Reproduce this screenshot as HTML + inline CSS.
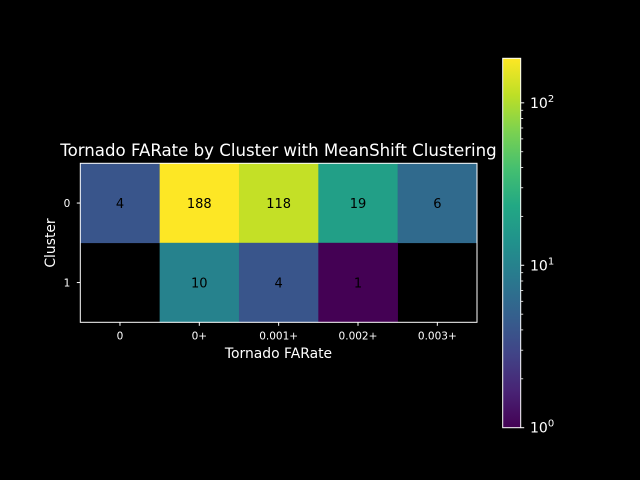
<!DOCTYPE html>
<html><head><meta charset="utf-8"><style>
html,body{margin:0;padding:0;background:#000;}
svg{display:block;font-family:"DejaVu Sans","Liberation Sans",sans-serif;}
</style></head><body>
<svg id="chart" width="640" height="480" xmlns="http://www.w3.org/2000/svg">
<rect width="640" height="480" fill="#000"/>
<defs>
<linearGradient id="vir" x1="0" y1="1" x2="0" y2="0">
<stop offset="0" stop-color="#440154"/><stop offset="0.1" stop-color="#482475"/>
<stop offset="0.2" stop-color="#414487"/><stop offset="0.3" stop-color="#355f8d"/>
<stop offset="0.4" stop-color="#2a788e"/><stop offset="0.5" stop-color="#21918c"/>
<stop offset="0.6" stop-color="#22a884"/><stop offset="0.7" stop-color="#44bf70"/>
<stop offset="0.8" stop-color="#7ad151"/><stop offset="0.9" stop-color="#bddf26"/>
<stop offset="1" stop-color="#fde725"/>
</linearGradient>
</defs>
<text x="278.5" y="156" fill="#fff" font-size="16.6" text-anchor="middle">Tornado FARate by Cluster with MeanShift Clustering</text>
<g id="cells"></g>
<rect x="80.3" y="163.3" width="396.7" height="159" fill="none" stroke="#fff" stroke-width="1"/>
<g id="xt"></g><g id="yt"></g>
<text x="278.5" y="358" fill="#fff" font-size="13.9" text-anchor="middle">Tornado FARate</text>
<text transform="translate(55,243) rotate(-90)" fill="#fff" font-size="13.9" text-anchor="middle">Cluster</text>
<rect x="502.7" y="58.3" width="18" height="369.4" fill="url(#vir)"/>
<rect x="502.7" y="58.3" width="18" height="369.4" fill="none" stroke="#fff" stroke-width="1"/>
<g id="cb"></g>
</svg>
<script>
const categories = ["0","0+","0.001+","0.002+","0.003+"];
const clusters = ["0","1"];
const cluster0 = [4,188,118,19,6];
const cluster1 = [0,10,4,1,0];
const cbTicks = [1,10,100];
const cbTickLabels = ["0","1","2"];

const NS="http://www.w3.org/2000/svg";
const rows=[cluster0,cluster1];
const X0=80.3,Y0=163.3,W=396.7,H=159;
const cw=W/categories.length, ch=H/clusters.length;
const vmin=1, vmax=Math.max(...cluster0,...cluster1);
const cbTop=58.3, cbBot=427.7;
const vir=["#440154","#482475","#414487","#355f8d","#2a788e","#21918c","#22a884","#44bf70","#7ad151","#bddf26","#fde725"];
function hex(h){return [1,3,5].map(i=>parseInt(h.substr(i,2),16));}
function color(t){t=Math.max(0,Math.min(1,t));const p=t*10,i=Math.min(9,Math.floor(p)),f=p-i;
 const a=hex(vir[i]),b=hex(vir[i+1]);return "rgb("+a.map((v,k)=>Math.round(v+(b[k]-v)*f)).join(",")+")";}
function norm(v){return Math.log(v/vmin)/Math.log(vmax/vmin);}
function xPos(i){return X0+cw*i;}
function yPos(j){return Y0+ch*j;}
function cbY(v){return cbBot-(cbBot-cbTop)*norm(v);}
function mk(tag,attrs,parent,txt){const e=document.createElementNS(NS,tag);for(const k in attrs)e.setAttribute(k,attrs[k]);if(txt!==undefined)e.textContent=txt;parent.appendChild(e);return e;}
const cells=document.getElementById('cells');
rows.forEach((r,j)=>r.forEach((v,i)=>{
 if(v<=0)return;
 const c=mk('rect',{x:xPos(i),y:yPos(j),width:cw+0.3,height:ch+0.3,fill:color(norm(v))},cells);
 
 
 const t=mk('text',{x:xPos(i)+cw/2,y:yPos(j)+ch/2+5,'text-anchor':'middle','font-size':13,fill:'#000'},cells,String(v));
 
 
}));
const xt=document.getElementById('xt');
categories.forEach((c,i)=>{
 const x=xPos(i)+cw/2;
 mk('line',{x1:x,x2:x,y1:Y0+H,y2:Y0+H+3.5,stroke:'#fff'},xt);
 const t=mk('text',{x:x,y:Y0+H+17,'text-anchor':'middle','font-size':10.5,fill:'#fff'},xt,c);
 
 
});
const yt=document.getElementById('yt');
clusters.forEach((c,j)=>{
 const y=yPos(j)+ch/2;
 mk('line',{x1:X0-3.5,x2:X0,y1:y,y2:y,stroke:'#fff'},yt);
 const t=mk('text',{x:X0-10,y:y+4,'text-anchor':'end','font-size':10.5,fill:'#fff'},yt,c);
 
 
});
const cb=document.getElementById('cb');
for(let d=1;d<=100;d*=10){for(let m=2;m<=9;m++){const v=d*m;if(v>vmax)break;const y=cbY(v);
 mk('line',{x1:520.7,x2:523.2,y1:y,y2:y,stroke:'#fff','stroke-width':0.8},cb);}}
cbTicks.forEach((v,k)=>{
 const y=cbY(v);
 mk('line',{x1:520.7,x2:524.2,y1:y,y2:y,stroke:'#fff'},cb);
 const t=mk('text',{x:530,y:y+5,'font-size':14,fill:'#fff'},cb);
 
 
 mk('tspan',{},t,'10');
 mk('tspan',{dy:-6,'font-size':10},t,cbTickLabels[k]);
});
</script>
</body></html>
